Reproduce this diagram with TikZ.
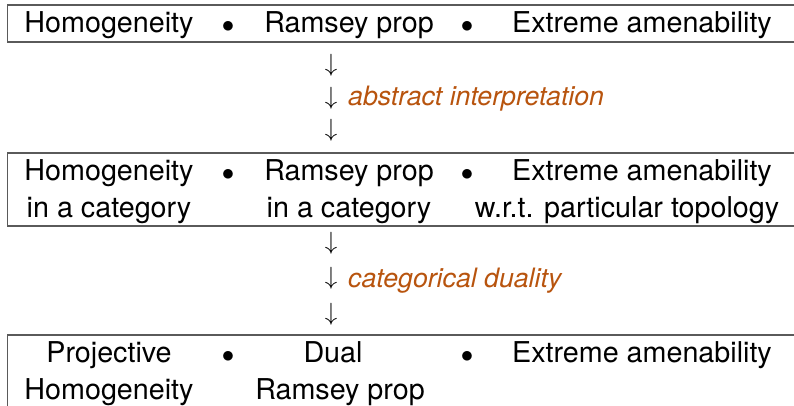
\documentclass[tikz,border=0pt]{standalone}
\usepackage{fontspec}
\setmainfont{TeX Gyre Heros}
\definecolor{labelorange}{RGB}{184,84,14}
\definecolor{framegray}{RGB}{90,90,90}
\begin{document}
\begin{tikzpicture}[x=1pt,y=1pt,
  frame/.style={draw=framegray,line width=1.4pt},
  txt/.style={anchor=base,inner sep=0pt,font=\fontsize{28.7}{37}\selectfont},
  dot/.style={anchor=base,inner sep=0pt,font=\fontsize{34}{37}\selectfont},
  arr/.style={inner sep=0pt,font=\fontsize{30}{37}\selectfont},
  lbl/.style={anchor=base west,inner sep=0pt,text=labelorange,
    font=\fontsize{26.7}{32}\selectfont\itshape}]
\useasboundingbox (0,0) rectangle (794,-406);
\clip (0,0) rectangle (794,-406);

% three framed rows
\draw[frame] (7.5,-5) rectangle (820,-42);
\draw[frame] (7.5,-153) rectangle (820,-226);
\draw[frame] (7.5,-335) rectangle (820,-430);

% row 1
\node[txt] (h1) at (109,-33) {Homogeneity};
\node[dot] (b11) at (228,-33) {$\bullet$};
\node[txt] (r1) at (349,-33) {Ramsey prop};
\node[dot] (b12) at (467,-33) {$\bullet$};
\node[txt] (e1) at (642,-33) {Extreme amenability};

% row 2
\node[txt] (h2) at (109,-180) {Homogeneity};
\node[txt] (h2b) at (109,-217) {in a category};
\node[dot] (b21) at (228,-180) {$\bullet$};
\node[txt] (r2) at (349,-180) {Ramsey prop};
\node[txt] (r2b) at (349,-217) {in a category};
\node[dot] (b22) at (467,-180) {$\bullet$};
\node[txt] (e2) at (642,-180) {Extreme amenability};
\node[txt] (e2b) at (627,-217) {w.r.t. particular topology};

% row 3
\node[txt] (p3) at (109,-362) {Projective};
\node[txt] (h3) at (109,-399) {Homogeneity};
\node[dot] (b31) at (228,-362) {$\bullet$};
\node[txt] (d3) at (333,-362) {Dual};
\node[txt] (r3) at (340,-399) {Ramsey prop};
\node[dot] (b32) at (467,-362) {$\bullet$};
\node[txt] (e3) at (642,-362) {Extreme amenability};

% first transition
\node[arr] (a11) at (331,-65) {$\downarrow$};
\node[arr] (a12) at (331,-98) {$\downarrow$};
\node[arr] (a13) at (331,-130) {$\downarrow$};
\node[lbl] (l1) at (348,-106) {abstract interpretation};

% second transition
\node[arr] (a21) at (331,-243) {$\downarrow$};
\node[arr] (a22) at (331,-278) {$\downarrow$};
\node[arr] (a23) at (331,-314) {$\downarrow$};
\node[lbl] (l2) at (348,-287) {categorical duality};
\end{tikzpicture}
\end{document}
